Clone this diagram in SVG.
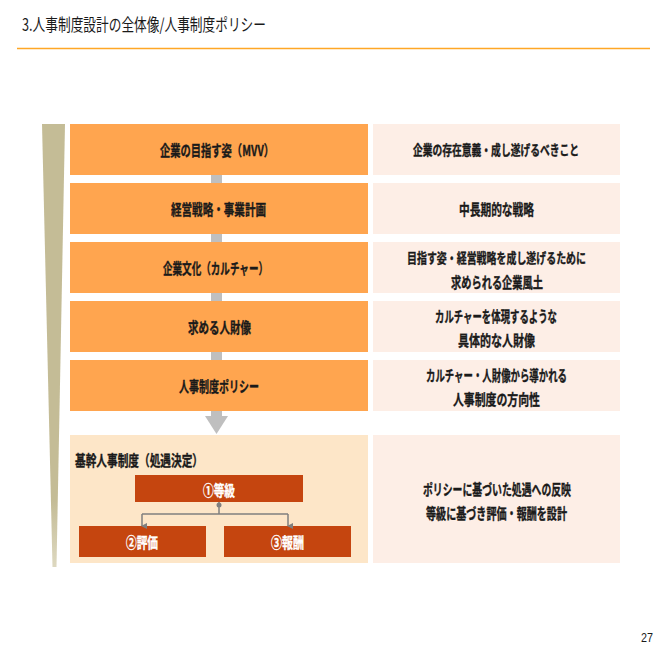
<svg xmlns="http://www.w3.org/2000/svg" width="661" height="661" viewBox="0 0 661 661">
<defs>
<style>
.t{font-family:"Noto Sans CJK JP","Noto Sans",sans-serif;font-weight:700;font-size:15px;fill:#1a1a1a;stroke:#1a1a1a;stroke-width:0.35px;text-anchor:middle}
.s{font-size:13.5px}
.w{fill:#ffffff;stroke:#ffffff}
.lb{fill:#FFA54F}
.rb{fill:#FDEEE6}
.db{fill:#C5450F}
</style>
<linearGradient id="bar" x1="0" y1="0" x2="0" y2="1">
<stop offset="0" stop-color="#C4BC96"/>
<stop offset="0.85" stop-color="#C4BC96"/>
<stop offset="1" stop-color="#DDD8C0"/>
</linearGradient>
<marker id="ah" markerWidth="6" markerHeight="6" refX="3" refY="5" orient="auto" markerUnits="userSpaceOnUse" viewBox="0 0 6 6">
<path d="M0,0 L6,0 L3,6 Z" fill="#7F7F7F"/>
</marker>
</defs>
<rect width="661" height="661" fill="#ffffff"/>
<g id="title">
<text x="22" y="31" font-family="'Noto Sans CJK JP',sans-serif" font-size="17" fill="#1a1a1a" textLength="244" lengthAdjust="spacingAndGlyphs">3.人事制度設計の全体像/人事制度ポリシー</text>
<line x1="17" y1="48.5" x2="650" y2="48.5" stroke="#FFA726" stroke-width="1.5"/>
</g>
<polygon id="sidebar" points="42,124 65,124 56.5,567 52.5,567" fill="url(#bar)"/>
<g id="n1">
<rect class="lb" x="70" y="124" width="298" height="51"/>
<text class="t" x="217" y="155.5" textLength="114" lengthAdjust="spacingAndGlyphs">企業の目指す姿（MVV）</text>
</g>
<g id="d1">
<rect class="rb" x="373" y="124" width="247" height="51"/>
<text class="t s" x="496" y="155" textLength="166" lengthAdjust="spacingAndGlyphs">企業の存在意義・成し遂げるべきこと</text>
</g>
<g id="n2">
<rect class="lb" x="70" y="183" width="298" height="51"/>
<text class="t" x="218.5" y="214.5" textLength="95" lengthAdjust="spacingAndGlyphs">経営戦略・事業計画</text>
</g>
<g id="d2">
<rect class="rb" x="373" y="183" width="247" height="51"/>
<text class="t" x="496.5" y="214.5" textLength="75" lengthAdjust="spacingAndGlyphs">中長期的な戦略</text>
</g>
<g id="n3">
<rect class="lb" x="70" y="242" width="298" height="51"/>
<text class="t" x="215.5" y="273.5" textLength="105" lengthAdjust="spacingAndGlyphs">企業文化（カルチャー）</text>
</g>
<g id="d3">
<rect class="rb" x="373" y="242" width="247" height="51"/>
<text class="t s" x="496.5" y="263" textLength="179" lengthAdjust="spacingAndGlyphs">目指す姿・経営戦略を成し遂げるために</text>
<text class="t" x="497" y="287.5" textLength="92" lengthAdjust="spacingAndGlyphs">求められる企業風土</text>
</g>
<g id="n4">
<rect class="lb" x="70" y="301" width="298" height="51"/>
<text class="t" x="219.5" y="332.5" textLength="63" lengthAdjust="spacingAndGlyphs">求める人財像</text>
</g>
<g id="d4">
<rect class="rb" x="373" y="301" width="247" height="51"/>
<text class="t" x="496" y="321.5" textLength="122" lengthAdjust="spacingAndGlyphs">カルチャーを体現するような</text>
<text class="t" x="496.5" y="345.5" textLength="77" lengthAdjust="spacingAndGlyphs">具体的な人財像</text>
</g>
<g id="n5">
<rect class="lb" x="70" y="360" width="298" height="51"/>
<text class="t" x="219" y="391.5" textLength="80" lengthAdjust="spacingAndGlyphs">人事制度ポリシー</text>
</g>
<g id="d5">
<rect class="rb" x="373" y="360" width="247" height="51"/>
<text class="t" x="496.5" y="380.5" textLength="141" lengthAdjust="spacingAndGlyphs">カルチャー・人財像から導かれる</text>
<text class="t" x="496.5" y="404.5" textLength="87" lengthAdjust="spacingAndGlyphs">人事制度の方向性</text>
</g>
<g id="n6">
<rect x="70" y="435" width="298" height="128" fill="#FDE6C8"/>
<text class="t" x="75" y="465.5" style="text-anchor:start" textLength="128" lengthAdjust="spacingAndGlyphs">基幹人事制度（処遇決定）</text>
</g>
<g id="g1">
<rect class="db" x="135" y="475" width="168" height="27"/>
<text class="t w" x="219" y="495.5" textLength="32" lengthAdjust="spacingAndGlyphs">①等級</text>
</g>
<g id="g2">
<rect class="db" x="79" y="526" width="127" height="31"/>
<text class="t w" x="142" y="548" textLength="32" lengthAdjust="spacingAndGlyphs">②評価</text>
</g>
<g id="g3">
<rect class="db" x="224" y="526" width="127" height="31"/>
<text class="t w" x="287.5" y="548" textLength="33" lengthAdjust="spacingAndGlyphs">③報酬</text>
</g>
<g id="d6">
<rect class="rb" x="373" y="435" width="247" height="128"/>
<text class="t" x="497" y="494.5" textLength="148" lengthAdjust="spacingAndGlyphs">ポリシーに基づいた処遇への反映</text>
<text class="t" x="496.5" y="518.5" textLength="141" lengthAdjust="spacingAndGlyphs">等級に基づき評価・報酬を設計</text>
</g>
<g id="connectors">
<g fill="#BFBFBF">
<rect x="211" y="175" width="11" height="8"/>
<rect x="211" y="234" width="11" height="8"/>
<rect x="211" y="293" width="11" height="8"/>
<rect x="211" y="352" width="11" height="8"/>
<rect x="211" y="411" width="11" height="5"/>
<polygon points="205,416 228,416 216.5,434"/>
</g>
<g stroke="#7F7F7F" stroke-width="1.5" fill="none">
<line x1="219" y1="502" x2="219" y2="514"/>
<line x1="142" y1="514" x2="288" y2="514"/>
<line x1="142" y1="514" x2="142" y2="526" marker-end="url(#ah)"/>
<line x1="288" y1="514" x2="288" y2="526" marker-end="url(#ah)"/>
</g>
<circle cx="219" cy="505" r="2.5" fill="#7F7F7F"/>
</g>
<text id="page" x="653" y="642" font-family="'Liberation Sans',sans-serif" font-size="13" fill="#1a1a1a" text-anchor="end" textLength="12" lengthAdjust="spacingAndGlyphs">27</text>
</svg>
